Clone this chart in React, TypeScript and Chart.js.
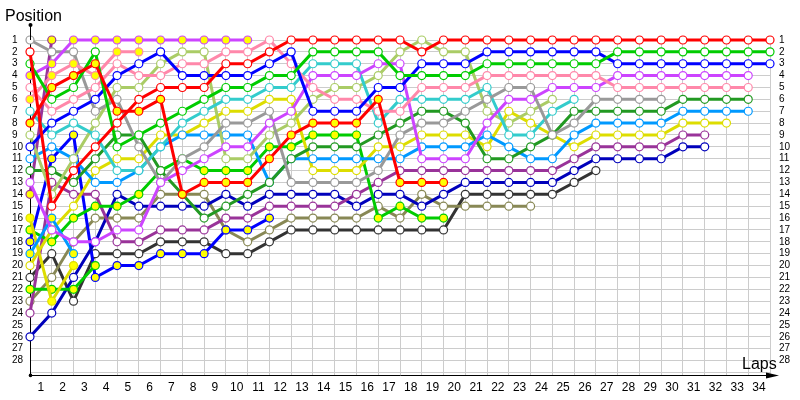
import { useEffect, useRef } from 'react';
import { Chart, registerables } from 'chart.js';
Chart.register(...registerables);

const laps = [0,1,2,3,4,5,6,7,8,9,10,11,12,13,14,15,16,17,18,19,20,21,22,23,24,25,26,27,28,29,30,31,32,33,34];
const positionTicks = [1,2,3,4,5,6,7,8,9,10,11,12,13,14,15,16,17,18,19,20,21,22,23,24,25,26,27,28,29];

const redW = [2,15,12,10,8,6,5,5,5,3,3,2,1,1,1,1,1,1,2,1,1,1,1,1,1,1,1,1,1,1,1,1,1,1,1];
const redY = [8,5,4,3,7,7,6,14,13,13,13,11,9,8,8,8,6,13,13,13];
const blueW = [10,8,7,6,4,3,2,4,4,4,4,3,2,7,7,7,5,5,3,3,3,2,2,2,2,2,2,3,3,3,3,3,3,3,3];
const greenW = [3,6,5,2,10,9,8,7,6,5,5,4,4,2,2,2,2,4,4,4,4,3,3,3,3,3,3,2,2,2,2,2,2,2,2];
const pinkW = [5,7,6,5,3,4,4,3,3,2,2,1,3,5,6,6,7,7,5,5,5,4,4,4,4,4,4,5,5,5,5,5,5,5];
const pinkY = [6,4,3,4,2,2];
const violetY = [4,3,1,1,1,1,1,1,1,1,1];
const violetW = [13,17,18,18,17,17,13,12,11,10,10,8,7,4,4,4,3,3,11,11,11,8,6,6,5,5,5,4,4,4,4,4,4,4];
const grayW = [1,2,2,7,6,10,13,11,10,8,8,7,13,13,13,13,12,9,8,8,7,6,5,5,9,8,6,6,6,6];
const cyanW = [7,9,8,9,12,12,10,8,7,6,6,5,5,3,3,3,8,6,6,6,6,5,9,9,7,6];
const lightGreenW = [9,14,11,8,5,5,3,2,2,11,11,9,8,6,5,5,4,2,1,2,2,7,8,7,6];
const yellowW = [20,17,15,12,11,11,9,9,8,7,7,6,6,12,12,12,10,10,9,9,9,10,7,8,9,10,9,9,9,9,8,8,8];
const yellowY = [16,23,20];
const lightBlueW = [11,10,11,13,13,12,10,9,9,9,9,13,11,11,11,11,11,11,10,10,10,9,10,11,11,9,8,8,8,8,7,7,7,7];
const lightBlueY = [19,16,19];
const darkGreenW = [12,12,13,11,9,9,12,14,16,15,14,13,11,10,10,10,9,8,7,7,8,11,11,10,9,7,7,7,7,7,6,6,6,6];
const greenY = [17,18,16,15,15,14,12,11,12,12,12,10,10,9,9,9,16,15,16,16];
const greenY2 = [22,22,22,20];
const darkPurpleW = [24,13,14,14,18,18,17,17,17,16,16,15,15,15,15,14,13,12,12,12,12,12,12,12,12,11,10,10,10,10,9,9];
const darkPurpleY = [14,1];
const oliveW = [23,21,18,16,16,16,14,14,14,17,18,17,16,16,16,16,15,16,14,15,15,15,15,15];
const darkGrayW = [21,19,23,19,19,19,18,18,18,19,19,18,17,17,17,17,17,17,17,17,14,14,14,14,14,13,12];
const blueY = [18,11,9,21,20,20,19,19,19,17,17,16];
const darkBlueW = [26,24,21,18,14,15,15,15,15,14,15,14,14,14,14,15,14,14,15,14,13,13,13,13,13,12,11,11,11,11,10,10];

const WHITE = '#ffffff';
const YEL = '#ffff00';

const seriesList = [
  { name: 'redW', values: redW, color: '#ff0000', fill: WHITE },
  { name: 'redY', values: redY, color: '#ff0000', fill: YEL },
  { name: 'greenW', values: greenW, color: '#00cc00', fill: WHITE },
  { name: 'blueW', values: blueW, color: '#0000ff', fill: WHITE },
  { name: 'pinkW', values: pinkW, color: '#ff88aa', fill: WHITE },
  { name: 'pinkY', values: pinkY, color: '#ff88aa', fill: YEL },
  { name: 'violetY', values: violetY, color: '#cc44ff', fill: YEL },
  { name: 'violetW', values: violetW, color: '#cc44ff', fill: WHITE },
  { name: 'grayW', values: grayW, color: '#999999', fill: WHITE },
  { name: 'cyanW', values: cyanW, color: '#33cccc', fill: WHITE },
  { name: 'lightGreenW', values: lightGreenW, color: '#aacc66', fill: WHITE },
  { name: 'darkGreenW', values: darkGreenW, color: '#229922', fill: WHITE },
  { name: 'lightBlueW', values: lightBlueW, color: '#0099ff', fill: WHITE },
  { name: 'lightBlueY', values: lightBlueY, color: '#0099ff', fill: YEL },
  { name: 'yellowW', values: yellowW, color: '#dddd00', fill: WHITE },
  { name: 'yellowY', values: yellowY, color: '#dddd00', fill: YEL },
  { name: 'greenY', values: greenY, color: '#00cc00', fill: YEL },
  { name: 'greenY2', values: greenY2, color: '#00cc00', fill: YEL },
  { name: 'darkPurpleW', values: darkPurpleW, color: '#993399', fill: WHITE },
  { name: 'darkPurpleY', values: darkPurpleY, color: '#993399', fill: YEL },
  { name: 'darkBlueW', values: darkBlueW, color: '#0000bb', fill: WHITE },
  { name: 'blueY', values: blueY, color: '#0000ff', fill: YEL },
  { name: 'oliveW', values: oliveW, color: '#888855', fill: WHITE },
  { name: 'darkGrayW', values: darkGrayW, color: '#333333', fill: WHITE },
];

const FONT = '"Liberation Sans", Arial, sans-serif';

const decorPlugin = {
  id: 'decor',
  afterDraw(chart: any) {
    const ctx = chart.ctx;
    const { left, right, top, bottom } = chart.chartArea;
    ctx.save();
    ctx.strokeStyle = '#000';
    ctx.fillStyle = '#000';
    ctx.lineWidth = 1;
    const ax = Math.round(left) + 0.5;
    ctx.beginPath();
    ctx.moveTo(ax, top);
    ctx.lineTo(ax, 25);
    ctx.stroke();
    ctx.beginPath();
    ctx.arc(ax, 25, 2, 0, Math.PI * 2);
    ctx.fill();
    ctx.beginPath();
    ctx.arc(ax, bottom, 1.8, 0, Math.PI * 2);
    ctx.fill();
    const by = Math.round(bottom) + 0.5;
    ctx.beginPath();
    ctx.moveTo(right, by);
    ctx.lineTo(770, by);
    ctx.stroke();
    ctx.beginPath();
    ctx.moveTo(766, by - 3);
    ctx.lineTo(779, by);
    ctx.lineTo(766, by + 3);
    ctx.closePath();
    ctx.fill();
    ctx.font = '16px ' + FONT;
    ctx.textBaseline = 'alphabetic';
    ctx.textAlign = 'left';
    ctx.fillText('Position', 5, 21);
    ctx.fillText('Laps', 742, 369);
    ctx.restore();
  },
};

export default function App() {
  const ref = useRef<HTMLCanvasElement | null>(null);
  useEffect(() => {
    if (!ref.current) return;
    const datasets = seriesList.map((s) => ({
      label: s.name,
      data: laps.map((lap, i) => ({ x: lap, y: i < s.values.length ? s.values[i] : null })),
      borderColor: s.color,
      backgroundColor: s.fill,
      pointBackgroundColor: s.fill,
      pointBorderColor: s.color,
      pointRadius: 4,
      pointBorderWidth: 1.2,
      borderWidth: 3,
      tension: 0,
      spanGaps: false,
      clip: false as any,
    }));
    const chart = new Chart(ref.current, {
      type: 'line',
      data: { datasets },
      plugins: [decorPlugin],
      options: {
        responsive: false,
        animation: false,
        layout: { padding: { left: 12, top: 40, right: 0, bottom: 0 } },
        plugins: { legend: { display: false }, tooltip: { enabled: false } },
        scales: {
          x: {
            type: 'linear',
            min: 0,
            max: 34,
            position: 'bottom',
            afterBuildTicks: (s: any) => { s.ticks = laps.map((v) => ({ value: v })); },
            afterFit: (s: any) => { s.height = 24.6; },
            grid: { color: '#cccccc', drawTicks: false, lineWidth: 1 },
            border: { color: '#000000', width: 1 },
            ticks: {
              autoSkip: false,
              maxRotation: 0,
              padding: 5,
              labelOffset: -11,
              color: '#000',
              font: { family: FONT, size: 12 },
              callback: (v: any) => (v === 0 ? '' : String(v)),
            },
          },
          y: {
            type: 'linear',
            reverse: true,
            min: 1,
            max: 29.25,
            position: 'left',
            afterBuildTicks: (s: any) => { s.ticks = positionTicks.map((v) => ({ value: v })); },
            afterFit: (s: any) => { s.width = 18; },
            grid: { color: '#cccccc', drawTicks: false, lineWidth: 1 },
            border: { color: '#000000', width: 1 },
            ticks: {
              autoSkip: false,
              crossAlign: 'far',
              color: '#000',
              padding: 0,
              font: { family: FONT, size: 10 },
              callback: (v: any) => (v <= 28 ? String(v) : ''),
            },
          },
          y2: {
            type: 'linear',
            reverse: true,
            min: 1,
            max: 29.25,
            position: 'right',
            afterBuildTicks: (s: any) => { s.ticks = positionTicks.map((v) => ({ value: v })); },
            afterFit: (s: any) => { s.width = 30; },
            grid: { display: false, drawTicks: false },
            border: { display: false },
            ticks: {
              autoSkip: false,
              color: '#000',
              padding: 9,
              font: { family: FONT, size: 10 },
              callback: (v: any) => (v <= 28 ? String(v) : ''),
            },
          },
        },
      } as any,
    });
    return () => chart.destroy();
  }, []);
  return (
    <div style={{ position: 'fixed', left: 0, top: 0, width: 800, height: 400 }}>
      <canvas ref={ref} width={800} height={400} style={{ width: 800, height: 400 }} />
    </div>
  );
}
